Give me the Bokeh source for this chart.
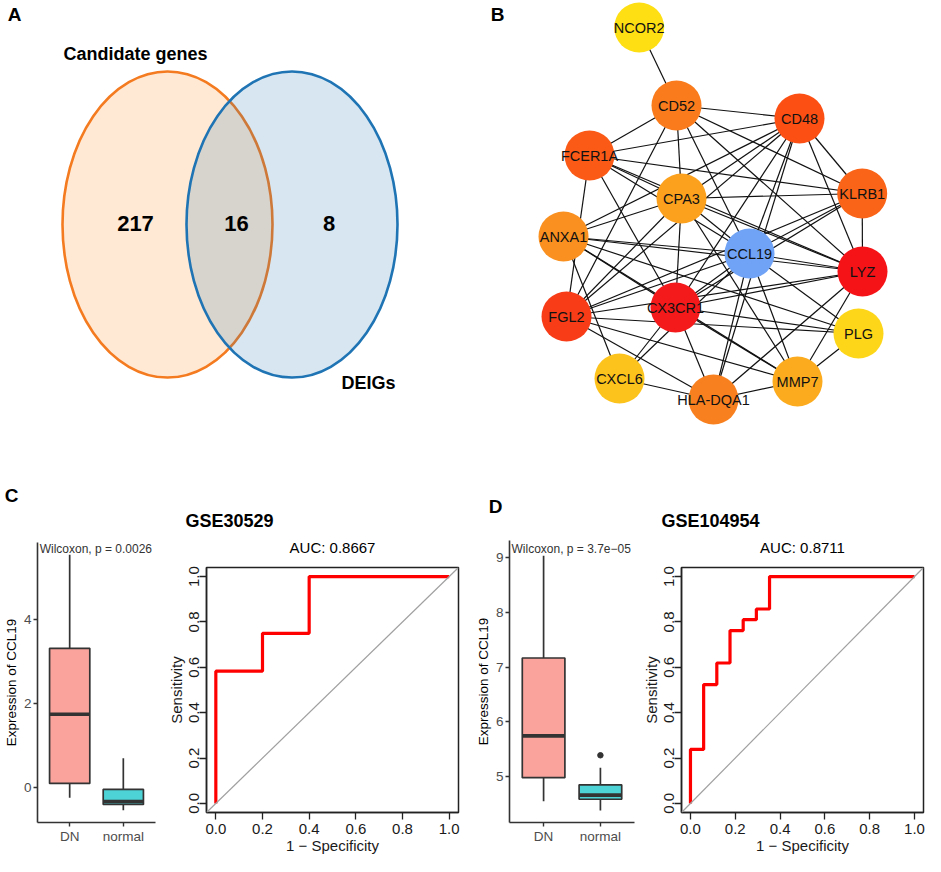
from bokeh.plotting import figure
from bokeh.layouts import column, row
from bokeh.models import Range1d, FixedTicker, PrintfTickFormatter, Slope
from bokeh.embed import file_html
from bokeh.resources import INLINE
from bokeh.core.properties import value

FONT = "Liberation Sans"

# ---------------- data ----------------
# Panel A: Venn diagram
venn_sets = ["Candidate genes", "DEIGs"]
venn_counts = [217, 16, 8]          # only candidate, overlap, only DEIGs

# Panel B: PPI network
net_genes = ["NCOR2", "CD52", "CD48", "FCER1A", "CPA3", "KLRB1", "ANXA1", "CCL19",
             "LYZ", "FGL2", "CX3CR1", "PLG", "CXCL6", "MMP7", "HLA-DQA1"]
net_edges = [
    ("NCOR2", "CD52"), ("CD52", "CD48"), ("CD52", "FCER1A"), ("CD52", "CPA3"),
    ("CD52", "FGL2"), ("CD52", "CCL19"), ("CD52", "KLRB1"), ("CD52", "LYZ"),
    ("CD48", "FCER1A"), ("CD48", "ANXA1"), ("CD48", "CPA3"), ("CD48", "FGL2"),
    ("CD48", "KLRB1"), ("CD48", "LYZ"), ("CD48", "CCL19"), ("CD48", "CX3CR1"),
    ("CD48", "HLA-DQA1"), ("FCER1A", "KLRB1"), ("FCER1A", "CPA3"), ("FCER1A", "CCL19"),
    ("FCER1A", "LYZ"), ("FCER1A", "FGL2"), ("FCER1A", "CX3CR1"), ("CPA3", "KLRB1"),
    ("CPA3", "ANXA1"), ("CPA3", "CX3CR1"), ("CPA3", "FGL2"), ("CPA3", "LYZ"),
    ("CPA3", "CCL19"), ("CPA3", "MMP7"), ("KLRB1", "LYZ"), ("KLRB1", "CCL19"),
    ("KLRB1", "CX3CR1"), ("KLRB1", "FGL2"), ("ANXA1", "CCL19"), ("ANXA1", "LYZ"),
    ("ANXA1", "CX3CR1"), ("ANXA1", "PLG"), ("ANXA1", "MMP7"), ("ANXA1", "CXCL6"),
    ("CCL19", "LYZ"), ("CCL19", "FGL2"), ("CCL19", "CX3CR1"), ("CCL19", "HLA-DQA1"),
    ("CCL19", "MMP7"), ("CCL19", "PLG"), ("CCL19", "CXCL6"), ("LYZ", "CX3CR1"),
    ("LYZ", "FGL2"), ("LYZ", "MMP7"), ("LYZ", "HLA-DQA1"), ("FGL2", "PLG"),
    ("FGL2", "MMP7"), ("FGL2", "HLA-DQA1"), ("CX3CR1", "PLG"), ("CX3CR1", "MMP7"),
    ("CX3CR1", "HLA-DQA1"), ("CX3CR1", "CXCL6"), ("PLG", "MMP7"), ("MMP7", "HLA-DQA1"),
    ("HLA-DQA1", "CXCL6"),
]

# Panels C / D: boxplots of CCL19 expression
box_groups = ["DN", "normal"]
c_lo = [-0.24, -0.54]
c_q1 = [0.10, -0.40]
c_med = [1.75, -0.33]
c_q3 = [3.32, -0.04]
c_hi = [5.55, 0.70]
c_out_group = []
c_out_val = []
c_yticks = [0, 2, 4]
c_pval = "Wilcoxon, p = 0.0026"

d_lo = [4.55, 4.38]
d_q1 = [4.98, 4.585]
d_med = [5.745, 4.66]
d_q3 = [7.17, 4.85]
d_hi = [9.04, 5.16]
d_out_group = ["normal"]
d_out_val = [5.39]
d_yticks = [5, 6, 7, 8, 9]
d_pval = "Wilcoxon, p = 3.7e\u221205"

# ROC curves
roc_ticks = [0.0, 0.2, 0.4, 0.6, 0.8, 1.0]
c_fpr = [0.0, 0.0, 0.2, 0.2, 0.4, 0.4, 1.0]
c_tpr = [0.0, 0.583, 0.583, 0.75, 0.75, 1.0, 1.0]
c_auc = "AUC: 0.8667"
d_fpr = [0.0, 0.0, 0.0588, 0.0588, 0.1176, 0.1176, 0.1765, 0.1765,
         0.2353, 0.2353, 0.2941, 0.2941, 0.3529, 0.3529, 1.0]
d_tpr = [0.0, 0.238, 0.238, 0.524, 0.524, 0.619, 0.619, 0.762,
         0.762, 0.810, 0.810, 0.857, 0.857, 1.0, 1.0]
d_auc = "AUC: 0.8711"
datasets = ["GSE30529", "GSE104954"]
panel_letters = ["A", "B", "C", "D"]

# ---------------- layout / style ----------------
venn_x = [167, 291.5]
venn_y = [224, 224]
venn_w = [210, 211]
venn_h = [306, 306]
venn_line = ["#F47B20", "#1F74B4"]
venn_fill = ["#FF7F0E", "#1F77B4"]
venn_count_pos = [(135, 223), (236, 223), (328.5, 223)]
venn_name_pos = [(135, 53), (368, 382)]

node_pos = {
    "NCOR2": (638.7, 27), "CD52": (676, 105), "CD48": (799, 118), "FCER1A": (589, 155),
    "CPA3": (681, 198), "KLRB1": (861.7, 193), "ANXA1": (563, 236), "CCL19": (749, 253),
    "LYZ": (862, 271), "FGL2": (566, 316), "CX3CR1": (675, 307), "PLG": (858, 333),
    "CXCL6": (619, 378), "MMP7": (797, 381), "HLA-DQA1": (713, 399),
}
node_color = {
    "NCOR2": "#FDDF13", "CD52": "#F97B1B", "CD48": "#FB4F14", "FCER1A": "#FA5A16",
    "CPA3": "#FBA11E", "KLRB1": "#FA6418", "ANXA1": "#F9901F", "CCL19": "#70A3F6",
    "LYZ": "#F51318", "FGL2": "#F73C17", "CX3CR1": "#F4191A", "PLG": "#FDD61A",
    "CXCL6": "#FCC31D", "MMP7": "#FBAB1D", "HLA-DQA1": "#F8801F",
}
letter_pos = [(14, 14), (497, 14), (11, 495), (495, 506)]
dataset_pos = [(229, 520), (710, 520)]
box_fill = ["#F9A39C", "#4DD2D6"]

TOP_H = 535
BOTTOM_H = 321
AUC_H = 22

# ---------------- top figure (A, B, headers) ----------------
top = figure(width=925, height=TOP_H, x_range=Range1d(0, 925), y_range=Range1d(TOP_H, 0),
             x_axis_location=None, y_axis_location=None, output_backend="svg",
             toolbar_location=None, min_border=0)
top.grid.visible = False
top.outline_line_color = None
top.background_fill_color = "white"

for i in range(len(venn_sets)):
    top.ellipse(x=[venn_x[i]], y=[venn_y[i]], width=[venn_w[i]], height=[venn_h[i]],
                fill_color=venn_fill[i], fill_alpha=0.18,
                line_color=venn_line[i], line_width=2.6)

top.text(x=[p[0] for p in venn_count_pos], y=[p[1] for p in venn_count_pos],
         text=[str(v) for v in venn_counts], text_font=value(FONT), text_font_size="22px",
         text_font_style="bold", text_align="center", text_baseline="middle", text_color="black")
top.text(x=[p[0] for p in venn_name_pos], y=[p[1] for p in venn_name_pos],
         text=venn_sets, text_font=value(FONT), text_font_size="18px",
         text_font_style="bold", text_align="center", text_baseline="middle", text_color="black")

ex0 = [node_pos[a][0] for a, b in net_edges]
ey0 = [node_pos[a][1] for a, b in net_edges]
ex1 = [node_pos[b][0] for a, b in net_edges]
ey1 = [node_pos[b][1] for a, b in net_edges]
top.segment(x0=ex0, y0=ey0, x1=ex1, y1=ey1, line_color="#111111", line_width=1.2)
top.circle(x=[node_pos[g][0] for g in net_genes], y=[node_pos[g][1] for g in net_genes],
           radius=25, fill_color=[node_color[g] for g in net_genes], line_color=None)
top.text(x=[node_pos[g][0] for g in net_genes], y=[node_pos[g][1] for g in net_genes],
         text=net_genes, text_font=value(FONT), text_font_size="14.5px",
         text_align="center", text_baseline="middle", text_color="#111111")

top.text(x=[p[0] for p in letter_pos], y=[p[1] for p in letter_pos], text=panel_letters,
         text_font=value(FONT), text_font_size="19px", text_font_style="bold",
         text_align="center", text_baseline="middle", text_color="black")
top.text(x=[p[0] for p in dataset_pos], y=[p[1] for p in dataset_pos], text=datasets,
         text_font=value(FONT), text_font_size="18px", text_font_style="bold",
         text_align="center", text_baseline="middle", text_color="black")


def box_fig(width, bl, br, bt, bb, yr, yticks, lo, q1, med, q3, hi, og, ov,
            ptxt, ptx, pty, psize):
    p = figure(width=width, height=BOTTOM_H, x_range=Range1d(0.4, 2.6), y_range=Range1d(*yr),
               output_backend="svg", toolbar_location=None,
               min_border_left=bl, min_border_right=br, min_border_top=bt, min_border_bottom=bb)
    p.frame_align = False
    p.grid.visible = False
    p.outline_line_color = None
    xs = [i + 1 for i in range(len(box_groups))]
    p.segment(x0=xs, y0=q3, x1=xs, y1=hi, line_color="#333333", line_width=1.7)
    p.segment(x0=xs, y0=q1, x1=xs, y1=lo, line_color="#333333", line_width=1.7)
    p.vbar(x=xs, width=0.75, bottom=q1, top=q3, fill_color=box_fill,
           line_color="#333333", line_width=1.7)
    p.segment(x0=[x - 0.375 for x in xs], y0=med, x1=[x + 0.375 for x in xs], y1=med,
              line_color="#333333", line_width=3.6)
    if ov:
        p.scatter(x=[box_groups.index(g) + 1 for g in og], y=ov, size=5.5,
                  fill_color="#333333", line_color="#333333")
    p.text(x=[ptx], y=[pty], text=[ptxt], text_font=value(FONT), text_font_size=psize,
           text_align="left", text_baseline="middle", text_color="#333333")
    p.xaxis.ticker = FixedTicker(ticks=xs, minor_ticks=[])
    p.xaxis.major_label_overrides = {x: g for x, g in zip(xs, box_groups)}
    p.yaxis.ticker = FixedTicker(ticks=yticks, minor_ticks=[])
    for ax in (p.xaxis[0], p.yaxis[0]):
        ax.axis_line_color = "#333333"
        ax.axis_line_width = 1.6
        ax.major_tick_line_color = "#333333"
        ax.major_tick_line_width = 1.4
        ax.major_tick_out = 4
        ax.major_tick_in = 0
        ax.minor_tick_out = 0
        ax.minor_tick_in = 0
        ax.major_label_text_font = FONT
        ax.major_label_text_font_size = "13.5px"
        ax.major_label_text_color = "#4D4D4D"
        ax.major_label_standoff = 2
    p.yaxis.axis_label = "Expression of CCL19"
    p.yaxis.axis_label_text_font = FONT
    p.yaxis.axis_label_text_font_size = "13.5px"
    p.yaxis.axis_label_text_font_style = "normal"
    p.yaxis.axis_label_text_color = "black"
    p.yaxis.axis_label_standoff = 2
    return p


def auc_fig(width, bl, br, auc):
    # strip above a ROC plot that carries its "AUC" heading, centred over the ROC frame
    p = figure(width=width, height=AUC_H, x_range=Range1d(0, width), y_range=Range1d(AUC_H, 0),
               x_axis_location=None, y_axis_location=None, output_backend="svg",
               toolbar_location=None, min_border=0)
    p.frame_align = False
    p.grid.visible = False
    p.outline_line_color = None
    p.text(x=[bl + (width - bl - br) / 2], y=[12], text=[auc], text_font=value(FONT),
           text_font_size="15px", text_align="center", text_baseline="middle",
           text_color="black")
    return p


def roc_fig(width, bl, br, fpr, tpr):
    p = figure(width=width, height=BOTTOM_H - AUC_H, x_range=Range1d(-0.04, 1.04),
               y_range=Range1d(-0.04, 1.04), output_backend="svg",
               toolbar_location=None, min_border_left=bl, min_border_right=br,
               min_border_top=10, min_border_bottom=41)
    p.frame_align = False
    p.grid.visible = False
    p.outline_line_color = "#222222"
    p.outline_line_width = 1.5
    p.add_layout(Slope(gradient=1, y_intercept=0, line_color="#A0A0A0", line_width=1.2))
    p.line(x=fpr, y=tpr, line_color="#FF0000", line_width=3.2)
    for ax in (p.xaxis[0], p.yaxis[0]):
        ax.ticker = FixedTicker(ticks=roc_ticks, minor_ticks=[])
        ax.formatter = PrintfTickFormatter(format="%.1f")
        ax.axis_line_color = "#222222"
        ax.axis_line_width = 1.5
        ax.major_tick_line_color = "#222222"
        ax.major_tick_line_width = 1.3
        ax.major_tick_out = 7
        ax.major_tick_in = 0
        ax.minor_tick_out = 0
        ax.minor_tick_in = 0
        ax.major_label_text_font = FONT
        ax.major_label_text_font_size = "15px"
        ax.major_label_text_color = "#1A1A1A"
        ax.axis_label_text_font = FONT
        ax.axis_label_text_font_size = "15px"
        ax.axis_label_text_font_style = "normal"
        ax.axis_label_text_color = "#1A1A1A"
    p.xaxis.major_label_standoff = 4
    p.xaxis.axis_label_standoff = 0
    p.yaxis.major_label_orientation = "vertical"
    p.yaxis.major_label_standoff = 0
    p.yaxis.axis_label_standoff = 2
    p.xaxis.axis_label = "1 \u2212 Specificity"
    p.yaxis.axis_label = "Sensitivity"
    return p


boxC = box_fig(163, 30, 8, 7, 34, (-0.83, 5.84), c_yticks, c_lo, c_q1, c_med, c_q3, c_hi,
               c_out_group, c_out_val, c_pval, 0.44, 5.69, "12px")
rocC = column(auc_fig(307, 43, 12, c_auc), roc_fig(307, 43, 12, c_fpr, c_tpr))
boxD = box_fig(168, 39, 4, 5, 34, (4.16, 9.32), d_yticks, d_lo, d_q1, d_med, d_q3, d_hi,
               d_out_group, d_out_val, d_pval, 0.435, 9.16, "12px")
rocD = column(auc_fig(287, 43, 2, d_auc), roc_fig(287, 43, 2, d_fpr, d_tpr))

layout = column(top, row(boxC, rocC, boxD, rocD))
open("out.html", "w").write(file_html(layout, INLINE))
